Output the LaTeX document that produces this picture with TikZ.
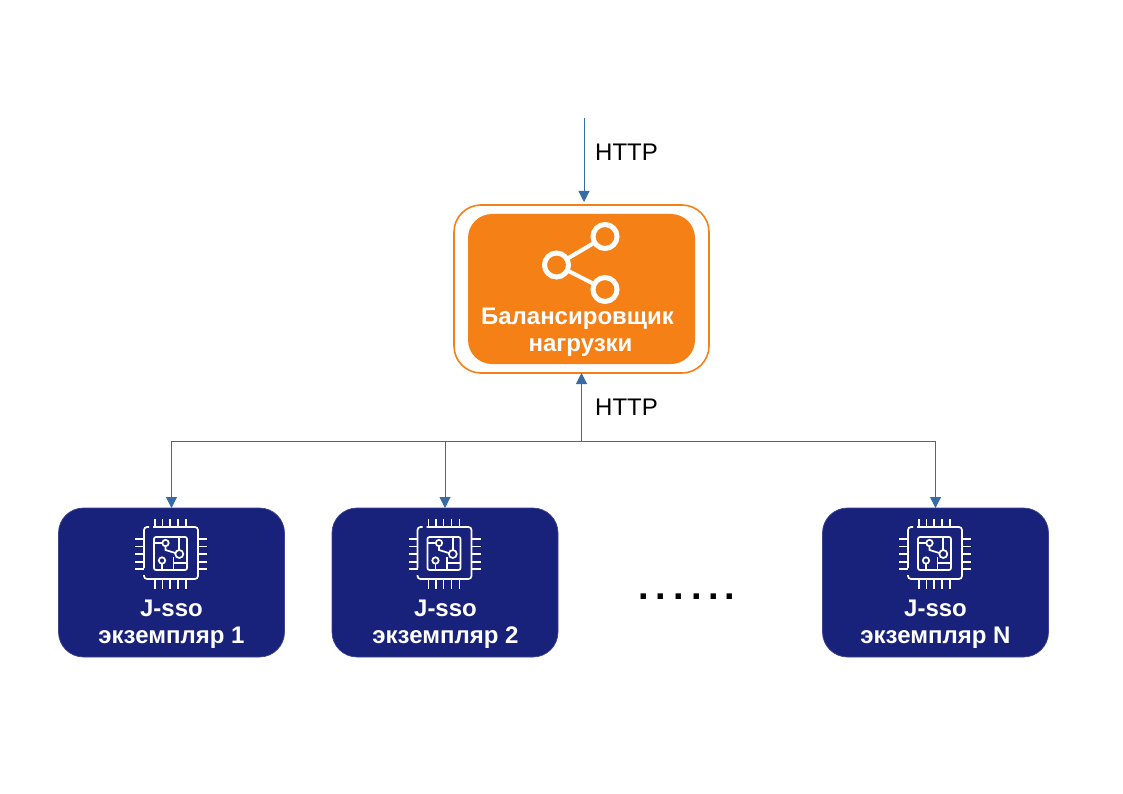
\documentclass[tikz,border=0pt]{standalone}
\usepackage{fontspec}
\setmainfont{Liberation Sans}
\usetikzlibrary{arrows.meta}
\definecolor{navybox}{HTML}{18227A}
\definecolor{orangebox}{HTML}{F58016}
\definecolor{linkblue}{HTML}{366BA4}
\tikzset{
  x=1pt,y=-1pt,
  link/.style={draw=linkblue,line width=1pt,-{Triangle[length=11pt,width=11pt]}},
  plainlink/.style={draw=linkblue,line width=1pt},
  lbl/.style={font=\fontsize{24}{27}\selectfont,text=black,inner sep=0pt,anchor=base west},
  boxtext/.style={font=\fontsize{24}{27}\selectfont\bfseries,text=white,align=center,inner sep=0pt},
  navy/.style={fill=navybox,draw=navybox!85!white,line width=0.7pt,rounded corners=25pt,minimum width=226pt,minimum height=149pt,outer sep=0pt,inner sep=0pt},
  chipline/.style={draw=white,line width=1.7pt},
  ringnode/.style={draw=white,line width=5pt,circle,minimum size=24pt,inner sep=0pt,outer sep=0pt},
  chip/.pic={
    \draw[chipline,rounded corners=3pt] (-18,-26) -- (27,-26) -- (27,26) -- (-27,26) -- (-27,22);
    \draw[chipline,rounded corners=3pt] (-27,15) -- (-27,-26) -- (-22,-26);
    \draw[chipline,rounded corners=2pt] (-17,-16) rectangle (16,17);
    \foreach \p in {-16,-8.5,-1,7,15}{
      \draw[chipline] (\p,-34) -- (\p,-26);
      \draw[chipline] (\p,26) -- (\p,36);
    }
    \foreach \p in {-14,-6.5,1,9,16}{
      \draw[chipline] (-36,\p) -- (-27,\p);
      \draw[chipline] (27,\p) -- (36,\p);
    }
    \draw[chipline] (-5.5,-10) circle (3.2);
    \draw[chipline] (8.3,1) circle (4);
    \draw[chipline] (-9,7.5) circle (3.2);
    \draw[chipline] (-17,-10) -- (-8.7,-10);
    \draw[chipline] (-5.5,-6.8) -- (-5.5,-3) -- (4.3,0);
    \draw[chipline] (8.3,-16) -- (8.3,-3);
    \draw[chipline] (-9,10.7) -- (-9,17);
    \draw[chipline] (2.5,4) -- (2.5,17);
    \draw[chipline] (2.5,10) -- (16,10);
  }
}
\begin{document}
\begin{tikzpicture}
\useasboundingbox (0,0) rectangle (1123,794);

% Load balancer
\node[draw=orangebox,line width=1.6pt,rounded corners=27pt,minimum width=255pt,minimum height=168pt,outer sep=0pt,inner sep=0pt] (lb) at (581.5,289) {};
\node[fill=orangebox,rounded corners=24pt,minimum width=227pt,minimum height=150pt,outer sep=0pt,inner sep=0pt] (lbin) at (581.5,289) {};
\node[ringnode] (sa) at (605,236.5) {};
\node[ringnode] (sb) at (556.5,265) {};
\node[ringnode] (sc) at (605,289.5) {};
\draw[draw=white,line width=4pt] (sb) -- (sa);
\draw[draw=white,line width=4pt] (sb) -- (sc);
\node[boxtext] (lbt) at (580.5,332) {Балансировщик\kern6pt\\нагрузки};

% Instances
\node[navy] (j1) at (171.5,582.5) {};
\node[navy] (j2) at (445,582.5) {};
\node[navy] (j3) at (935.5,582.5) {};
\pic at (171,553) {chip};
\pic at (444.5,553) {chip};
\pic at (935,553) {chip};
\node[boxtext] (j1t) at (171.5,624.5) {J-sso\\экземпляр 1};
\node[boxtext] (j2t) at (445.5,624.5) {J-sso\\экземпляр 2};
\node[boxtext] (j3t) at (935.5,624.5) {J-sso\\экземпляр N};
\node[font=\fontsize{38}{40}\selectfont\bfseries,text=black,inner sep=0pt,anchor=base] (dots) at (686.5,599) {.\kern7pt.\kern7pt.\kern7pt.\kern7pt.\kern5pt.};

% Connectors
\coordinate (in) at (584,118);
\coordinate (intip) at (584,202);
\coordinate (bus) at (581.5,441);
\draw[link] (in) -- (intip);
\draw[link] (bus) -- (lb.south);
\draw[plainlink] (j1.north |- bus) -- (j3.north |- bus);
\draw[link] (j1.north |- bus) -- (j1.north);
\draw[link] (j2.north |- bus) -- (j2.north);
\draw[link] (j3.north |- bus) -- (j3.north);

% Labels
\node[lbl] (h1) at (595,161) {HTTP};
\node[lbl] (h2) at (595,415.5) {HTTP};
\end{tikzpicture}
\end{document}
